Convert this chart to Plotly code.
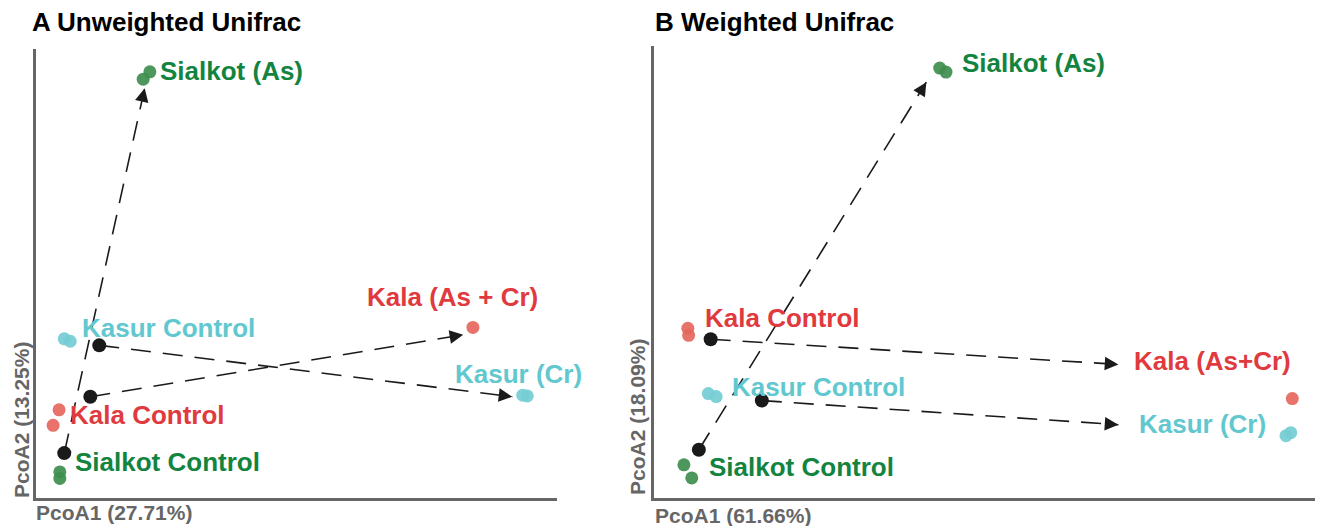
import math
import plotly.graph_objects as go

# ---------------- DATA ----------------
groups = ["Sialkot (As)", "Kasur Control", "Kala Control", "Sialkot Control", "Kala (As + Cr)", "Kasur (Cr)"]
group_colors = ["green", "cyan", "red", "green", "red", "cyan"]

# Panel A: Unweighted Unifrac sample coordinates (PcoA1, PcoA2)
a_x = {
    "Sialkot (As)": [-0.106, -0.097],
    "Kasur Control": [-0.212, -0.204],
    "Kala Control": [-0.219, -0.227],
    "Sialkot Control": [-0.218, -0.218],
    "Kala (As + Cr)": [0.337],
    "Kasur (Cr)": [0.404, 0.410],
}
a_y = {
    "Sialkot (As)": [0.313, 0.322],
    "Kasur Control": [-0.005, -0.008],
    "Kala Control": [-0.092, -0.111],
    "Sialkot Control": [-0.168, -0.176],
    "Kala (As + Cr)": [0.009],
    "Kasur (Cr)": [-0.074, -0.075],
}
# control centroids and arrow targets
a_cent_x = [-0.212, -0.177, -0.165]
a_cent_y = [-0.145, -0.076, -0.013]
a_tip_x = [-0.104, 0.324, 0.390]
a_tip_y = [0.302, 0.000, -0.076]

# Panel B: Weighted Unifrac
b_groups = ["Sialkot (As)", "Kala Control", "Kasur Control", "Sialkot Control", "Kala (As+Cr)", "Kasur (Cr)"]
b_colors = ["green", "red", "cyan", "green", "red", "cyan"]
b_x = {
    "Sialkot (As)": [0.063, 0.071],
    "Kala Control": [-0.257, -0.256],
    "Kasur Control": [-0.231, -0.221],
    "Sialkot Control": [-0.262, -0.252],
    "Kala (As+Cr)": [0.511],
    "Kasur (Cr)": [0.503, 0.509],
}
b_y = {
    "Sialkot (As)": [0.278, 0.274],
    "Kala Control": [0.019, 0.012],
    "Kasur Control": [-0.046, -0.049],
    "Sialkot Control": [-0.117, -0.130],
    "Kala (As+Cr)": [-0.051],
    "Kasur (Cr)": [-0.088, -0.085],
}
b_cent_x = [-0.243, -0.228, -0.163]
b_cent_y = [-0.102, 0.008, -0.053]
b_tip_x = [0.046, 0.290, 0.290]
b_tip_y = [0.264, -0.017, -0.077]

# ---------------- STYLE / LAYOUT ----------------
W, H = 1323, 526
OFF = 8  # page body margin compensation
FONT = "Liberation Sans, Arial, Helvetica, sans-serif"
TEXT_COL = {"green": "#13843f", "red": "#e03a3f", "cyan": "#62c8cf"}
PT_COL = {"green": "#3e8e4f", "red": "#e5675d", "cyan": "#74cdd4"}
AXIS_COL = "#666666"

# axis boxes in page pixels (left, right, top, bottom)
BOX_A = (36, 557, 49, 498)
BOX_B = (654, 1323, 46, 498)
RANGE_A = ([-0.25, 0.45], [-0.20, 0.35])
RANGE_B = ([-0.30, 0.55], [-0.15, 0.30])

# label placement: (x, y, xanchor)
LABELS_A = {
    "Sialkot (As)": (-0.086, 0.323, "left"),
    "Kasur Control": (-0.191, 0.008, "left"),
    "Kala Control": (-0.207, -0.098, "left"),
    "Sialkot Control": (-0.200, -0.156, "left"),
    "Kala (As + Cr)": (0.309, 0.046, "center"),
    "Kasur (Cr)": (0.398, -0.048, "center"),
}
LABELS_B = {
    "Sialkot (As)": (0.089, 0.283, "left"),
    "Kala Control": (-0.238, 0.029, "left"),
    "Kasur Control": (-0.203, -0.039, "left"),
    "Sialkot Control": (-0.233, -0.119, "left"),
    "Kala (As+Cr)": (0.307, -0.014, "left"),
    "Kasur (Cr)": (0.314, -0.076, "left"),
}

fig = go.Figure()
annotations = []


def add_panel(suffix, grp_list, colors, xs, ys, cx, cy, tx, ty, labels, box, rng):
    xa = "x" + suffix
    ya = "y" + suffix
    sx = (box[1] - box[0]) / (rng[0][1] - rng[0][0])
    sy = (box[3] - box[2]) / (rng[1][1] - rng[1][0])
    # dashed arrow shafts
    for i in range(len(cx)):
        fig.add_trace(go.Scatter(
            x=[cx[i], tx[i]], y=[cy[i], ty[i]], mode="lines", xaxis=xa, yaxis=ya,
            line=dict(color="#1a1a1a", width=1.6, dash="20px,12px"),
            hoverinfo="skip", showlegend=False))
        dxp = (tx[i] - cx[i]) * sx
        dyp = -(ty[i] - cy[i]) * sy
        L = math.hypot(dxp, dyp)
        annotations.append(dict(
            x=tx[i], y=ty[i], xref=xa, yref=ya, text="", showarrow=True,
            ax=-dxp / L * 14, ay=-dyp / L * 14, axref="pixel", ayref="pixel",
            arrowhead=2, arrowsize=1.7, arrowwidth=1.6, arrowcolor="#1a1a1a", standoff=0))
    # samples
    for g, c in zip(grp_list, colors):
        fig.add_trace(go.Scatter(
            x=xs[g], y=ys[g], mode="markers", xaxis=xa, yaxis=ya,
            marker=dict(size=13, color=PT_COL[c], opacity=0.92, line=dict(width=0)),
            name=g, showlegend=False))
        lx, ly, anc = labels[g]
        annotations.append(dict(
            x=lx, y=ly, xref=xa, yref=ya, text=g, showarrow=False,
            xanchor=anc, yanchor="middle",
            font=dict(family=FONT, size=26, color=TEXT_COL[c], weight="bold")))
    # centroids
    fig.add_trace(go.Scatter(
        x=cx, y=cy, mode="markers", xaxis=xa, yaxis=ya,
        marker=dict(size=14, color="#1a1a1a"), hoverinfo="skip", showlegend=False))


add_panel("", groups, group_colors, a_x, a_y, a_cent_x, a_cent_y, a_tip_x, a_tip_y,
          LABELS_A, BOX_A, RANGE_A)
add_panel("2", b_groups, b_colors, b_x, b_y, b_cent_x, b_cent_y, b_tip_x, b_tip_y,
          LABELS_B, BOX_B, RANGE_B)


def dom_x(box):
    return [(box[0] - OFF) / W, min(1.0, (box[1] - OFF) / W)]


def dom_y(box):
    return [(H - (box[3] - OFF)) / H, (H - (box[2] - OFF)) / H]


axis_common = dict(showgrid=False, zeroline=False, showticklabels=False, ticks="",
                   showline=True, linecolor=AXIS_COL, linewidth=3, mirror=False, fixedrange=True)


def paper_txt(text, px, py, size, color, xanchor="left", yanchor="middle", angle=0):
    annotations.append(dict(
        x=(px - OFF) / W, y=(H - (py - OFF)) / H, xref="paper", yref="paper", text=text,
        showarrow=False, xanchor=xanchor, yanchor=yanchor, textangle=angle,
        font=dict(family=FONT, size=size, color=color, weight="bold")))


paper_txt("A Unweighted Unifrac", 30, 22, 26, "#000000")
paper_txt("B Weighted Unifrac", 653, 22, 26, "#000000")
paper_txt("PcoA1 (27.71%)", 34, 512, 21, AXIS_COL)
paper_txt("PcoA1 (61.66%)", 653, 515, 21, AXIS_COL)
paper_txt("PcoA2 (13.25%)", 21, 500, 21, AXIS_COL, xanchor="center", yanchor="bottom", angle=-90)
paper_txt("PcoA2 (18.09%)", 637, 497, 21, AXIS_COL, xanchor="center", yanchor="bottom", angle=-90)

fig.update_layout(
    width=W, height=H, margin=dict(l=0, r=0, t=0, b=0),
    paper_bgcolor="white", plot_bgcolor="white", showlegend=False,
    xaxis=dict(domain=dom_x(BOX_A), range=RANGE_A[0], anchor="y", **axis_common),
    yaxis=dict(domain=dom_y(BOX_A), range=RANGE_A[1], anchor="x", **axis_common),
    xaxis2=dict(domain=dom_x(BOX_B), range=RANGE_B[0], anchor="y2", **axis_common),
    yaxis2=dict(domain=dom_y(BOX_B), range=RANGE_B[1], anchor="x2", **axis_common),
    annotations=annotations,
)

fig.write_html("out.html")
